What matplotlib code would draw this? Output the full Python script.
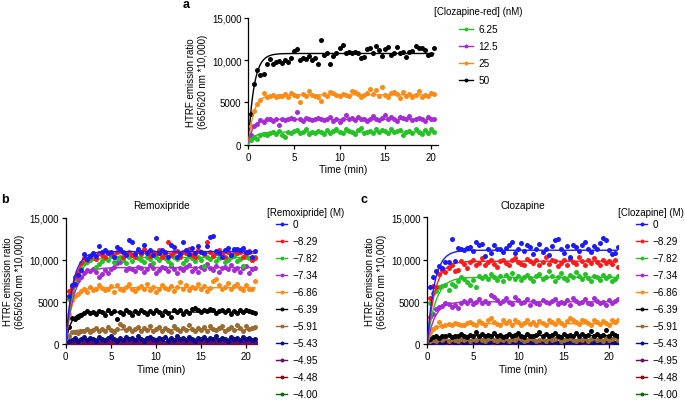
import numpy as np
import matplotlib
matplotlib.use('Agg')
import matplotlib.pyplot as plt
from matplotlib.lines import Line2D

plt.rcParams['font.family'] = ['Liberation Sans', 'DejaVu Sans']
plt.rcParams['font.size'] = 7

# ---------------- data (values in units of 100) ----------------
# panel a : [Clozapine-red] (nM)
a_labels = ['6.25', '12.5', '25', '50']
a_colors = ['#22c322', '#a62ad8', '#ff8a14', '#000000']
a_green = [5, 9, 7, 11, 13, 12, 14, 15, 13, 16, 12, 9, 15, 14, 16, 17, 14, 15, 18, 13,
           15, 14, 16, 15, 13, 17, 14, 16, 18, 15, 14, 19, 16, 15, 13, 17, 20, 14, 15, 16,
           14, 18, 15, 17, 16, 14, 18, 15, 16, 17, 12, 15, 16, 14, 18, 15, 13, 17, 14, 19, 15]
a_purple = [12, 22, 25, 29, 27, 30, 31, 28, 30, 23, 31, 29, 30, 32, 31, 39, 30, 28, 32, 31,
            29, 30, 32, 30, 29, 31, 33, 28, 30, 27, 31, 35, 30, 32, 29, 33, 31, 30, 28, 31,
            34, 30, 29, 32, 35, 31, 33, 30, 28, 33, 32, 30, 34, 29, 31, 32, 30, 28, 33, 31, 30]
a_orange = [22, 40, 48, 53, 61, 57, 58, 59, 56, 58, 58, 60, 57, 61, 59, 58, 51, 60, 58, 63,
            59, 58, 57, 52, 60, 58, 62, 61, 59, 58, 60, 59, 58, 64, 62, 60, 56, 59, 61, 66,
            60, 65, 58, 68, 59, 57, 61, 62, 60, 55, 62, 58, 60, 56, 59, 63, 57, 59, 58, 61, 60]
a_black = [36, 72, 88, 83, 84, 95, 101, 96, 98, 99, 97, 100, 98, 103, 111, 113, 100, 103, 102, 105,
           100, 103, 96, 124, 106, 109, 96, 105, 109, 115, 118, 108, 110, 108, 110, 109, 103, 104, 113, 115,
           108, 117, 112, 105, 113, 116, 106, 109, 116, 108, 110, 104, 110, 111, 117, 114, 115, 112, 106, 107, 115]
a_data = [a_green, a_purple, a_orange, a_black]
a_plateau = [15, 30, 59, 108]
a_rate = [1.5, 2.0, 1.7, 1.6]

# panels b and c : log concentration (M)
bc_labels = ['0', '\u22128.29', '\u22127.82', '\u22127.34', '\u22126.86', '\u22126.39',
             '\u22125.91', '\u22125.43', '\u22124.95', '\u22124.48', '\u22124.00']
bc_colors = ['#1a1aff', '#ff1a1a', '#22c322', '#a62ad8', '#ff8a14', '#000000',
             '#9a6a30', '#0a0a8a', '#6a0a6a', '#8a0a0a', '#0a6a0a']

b_data = [
    [57, 70, 72, 82, 88, 107, 101, 105, 108, 105, 117, 110, 112, 108, 110, 104, 115, 113, 110, 106,
     124, 122, 107, 113, 110, 118, 108, 112, 106, 126, 108, 112, 109, 104, 118, 115, 103, 107, 122, 112,
     107, 114, 108, 117, 110, 108, 117, 127, 129, 111, 108, 104, 112, 114, 106, 113, 113, 112, 114, 110,
     109, 104, 111],
    [63, 68, 80, 84, 97, 102, 100, 104, 107, 101, 108, 106, 104, 110, 107, 105, 109, 112, 103, 108,
     110, 106, 103, 111, 107, 113, 109, 105, 110, 108, 112, 104, 107, 121, 106, 109, 111, 104, 110, 108,
     113, 106, 103, 112, 109, 107, 121, 110, 105, 108, 112, 107, 104, 110, 106, 112, 108, 110, 104, 107,
     111, 100, 102],
    [53, 66, 78, 82, 90, 96, 98, 100, 103, 92, 95, 99, 102, 100, 105, 98, 102, 104, 100, 96,
     103, 99, 105, 102, 100, 98, 104, 101, 97, 103, 100, 106, 102, 99, 95, 104, 101, 103, 97, 100,
     105, 102, 99, 104, 100, 93, 103, 101, 106, 99, 102, 104, 98, 100, 103, 105, 99, 101, 93, 104,
     102, 100, 103],
    [55, 62, 70, 76, 80, 85, 88, 87, 89, 86, 80, 83, 88, 84, 89, 92, 96, 98, 100, 88,
     90, 89, 87, 92, 90, 86, 89, 94, 91, 85, 88, 92, 90, 87, 93, 89, 84, 91, 88, 92,
     94, 87, 90, 86, 92, 89, 95, 91, 88, 93, 86, 90, 92, 89, 94, 88, 91, 86, 90, 93,
     84, 89, 90],
    [36, 52, 57, 60, 63, 65, 62, 68, 64, 66, 70, 67, 64, 66, 69, 62, 70, 66, 64, 68,
     71, 65, 63, 67, 69, 66, 72, 64, 68, 62, 66, 70, 67, 65, 69, 63, 68, 74, 66, 70,
     64, 68, 67, 72, 65, 69, 63, 67, 75, 77, 70, 66, 68, 73, 65, 69, 71, 67, 64, 70,
     65, 66, 75],
    [20, 31, 30, 32, 34, 37, 39, 37, 38, 36, 39, 38, 35, 40, 37, 39, 30, 38, 36, 40,
     38, 35, 39, 37, 41, 38, 36, 39, 37, 40, 38, 35, 39, 37, 32, 40, 38, 41, 36, 39,
     37, 42, 43, 40, 38, 41, 39, 42, 40, 37, 39, 41, 38, 40, 36, 39, 37, 41, 38, 40,
     39, 38, 37],
    [10, 14, 14, 13, 15, 16, 18, 14, 17, 19, 15, 18, 16, 20, 17, 14, 18, 24, 22, 17,
     19, 15, 18, 20, 16, 19, 17, 21, 15, 18, 20, 16, 19, 17, 14, 21, 18, 16, 19, 17,
     23, 18, 15, 19, 17, 20, 16, 22, 18, 17, 19, 21, 16, 18, 20, 17, 23, 19, 16, 22,
     18, 19, 20],
    [3, 5, 7, 4, 6, 8, 5, 7, 6, 4, 8, 6, 5, 7, 9, 6, 4, 7, 5, 8,
     6, 7, 5, 9, 6, 4, 7, 8, 6, 5, 7, 6, 8, 4, 7, 5, 9, 6, 7, 5,
     8, 6, 4, 7, 6, 8, 5, 7, 6, 9, 5, 7, 6, 4, 8, 6, 7, 5, 8, 6,
     7, 5, 6],
    [1, 2, 3, 1, 2, 4, 2, 3, 1, 2, 3, 2, 4, 1, 3, 2, 2, 4, 1, 3,
     2, 3, 1, 2, 4, 2, 3, 1, 2, 3, 4, 2, 1, 3, 2, 2, 4, 1, 3, 2,
     3, 2, 1, 4, 2, 3, 2, 1, 3, 4, 2, 2, 3, 1, 2, 4, 3, 2, 1, 3,
     2, 4, 2],
    [0, 1, 2, 0, 1, 1, 2, 0, 1, 3, 1, 0, 2, 1, 1, 2, 0, 1, 2, 1,
     0, 2, 1, 3, 1, 0, 1, 2, 1, 0, 2, 1, 1, 0, 2, 3, 1, 0, 1, 2,
     1, 1, 0, 2, 1, 3, 0, 1, 2, 1, 0, 1, 2, 1, 0, 2, 1, 1, 3, 0,
     1, 2, 1],
    [1, 0, 2, 1, 3, 1, 0, 2, 1, 1, 2, 0, 1, 3, 2, 1, 0, 2, 1, 1,
     3, 0, 2, 1, 1, 0, 2, 2, 1, 0, 1, 3, 1, 2, 0, 1, 2, 1, 0, 3,
     1, 2, 1, 0, 2, 1, 1, 3, 0, 2, 1, 0, 1, 2, 3, 1, 0, 2, 1, 1,
     0, 2, 1],
]
b_plateau = [110, 108, 103, 91, 67, 38, 17, 6, 2, 1, 1]
b_rate = [1.3, 1.2, 1.1, 1.1, 1.6, 1.8, 2.5, 2.0, 2.0, 2.0, 2.0]

c_data = [
    [68, 79, 86, 92, 90, 97, 97, 124, 98, 114, 113, 111, 114, 115, 110, 121, 117, 118, 104, 113,
     108, 117, 112, 113, 109, 114, 117, 121, 108, 113, 119, 110, 117, 115, 106, 112, 118, 109, 113, 105,
     116, 123, 124, 112, 108, 116, 103, 117, 115, 110, 117, 121, 113, 109, 116, 112, 119, 125, 123, 111,
     106, 108, 115],
    [55, 69, 68, 83, 88, 85, 90, 93, 86, 88, 98, 95, 90, 97, 99, 94, 96, 102, 93, 97,
     99, 95, 91, 98, 100, 96, 94, 99, 102, 97, 95, 93, 101, 98, 96, 99, 94, 97, 103, 95,
     100, 98, 92, 96, 99, 94, 101, 97, 95, 103, 98, 93, 99, 96, 102, 97, 94, 100, 96, 98,
     95, 99, 91],
    [48, 60, 63, 68, 69, 70, 64, 71, 69, 75, 79, 77, 73, 70, 76, 68, 80, 78, 81, 77,
     83, 79, 76, 80, 75, 82, 78, 84, 77, 81, 76, 79, 82, 78, 74, 80, 83, 77, 79, 86,
     81, 75, 79, 84, 78, 76, 82, 79, 85, 80, 77, 83, 78, 74, 80, 79, 76, 82, 78, 81,
     75, 77, 81],
    [32, 36, 42, 44, 45, 48, 47, 44, 46, 43, 48, 51, 49, 52, 47, 50, 53, 49, 51, 48,
     58, 56, 52, 49, 51, 54, 50, 47, 56, 52, 48, 50, 53, 46, 51, 49, 47, 52, 50, 48,
     51, 53, 47, 50, 49, 52, 46, 55, 51, 48, 50, 53, 49, 47, 55, 51, 48, 50, 46, 52,
     49, 51, 53],
    [14, 18, 20, 26, 21, 23, 24, 22, 25, 24, 23, 22, 25, 26, 24, 22, 27, 25, 23, 29,
     31, 26, 24, 22, 28, 25, 27, 23, 29, 26, 22, 25, 28, 24, 26, 23, 27, 25, 22, 28,
     26, 24, 29, 25, 23, 27, 31, 28, 26, 24, 29, 27, 25, 23, 28, 26, 24, 27, 25, 23,
     28, 26, 29],
    [6, 8, 9, 7, 10, 9, 11, 8, 10, 9, 12, 10, 8, 11, 9, 14, 10, 12, 9, 11,
     10, 13, 9, 11, 8, 10, 12, 9, 11, 13, 10, 8, 12, 10, 9, 11, 14, 10, 12, 9,
     11, 13, 10, 8, 12, 10, 11, 9, 13, 10, 12, 9, 11, 15, 10, 12, 9, 11, 16, 10,
     13, 11, 10],
    [3, 5, 4, 6, 5, 7, 4, 6, 5, 3, 6, 5, 7, 4, 6, 5, 8, 5, 4, 6,
     7, 5, 3, 6, 5, 7, 4, 6, 5, 8, 6, 4, 5, 7, 6, 3, 5, 6, 4, 7,
     5, 6, 8, 4, 5, 6, 7, 5, 3, 6, 5, 7, 4, 6, 9, 5, 6, 4, 7, 5,
     6, 8, 5],
    [1, 2, 3, 2, 1, 3, 2, 4, 1, 2, 3, 1, 2, 2, 4, 1, 3, 2, 1, 2,
     3, 4, 1, 2, 3, 2, 1, 3, 2, 4, 2, 1, 3, 2, 1, 2, 4, 3, 1, 2,
     2, 3, 1, 4, 2, 1, 3, 2, 2, 1, 3, 4, 2, 1, 2, 3, 1, 2, 4, 2,
     3, 1, 2],
    [1, 0, 1, 2, 1, 0, 2, 1, 1, 3, 0, 1, 2, 1, 0, 1, 2, 2, 0, 1,
     1, 3, 1, 0, 2, 1, 1, 0, 2, 1, 3, 1, 0, 1, 2, 1, 0, 2, 1, 1,
     2, 0, 1, 3, 1, 0, 2, 1, 1, 2, 0, 1, 1, 2, 0, 3, 1, 1, 0, 2,
     1, 1, 2],
    [0, 1, 1, 2, 0, 1, 3, 1, 0, 2, 1, 1, 0, 2, 1, 3, 0, 1, 2, 1,
     1, 0, 2, 1, 0, 1, 3, 1, 2, 0, 1, 1, 2, 0, 1, 2, 1, 3, 0, 1,
     1, 2, 0, 1, 2, 1, 0, 3, 1, 1, 2, 0, 1, 1, 2, 1, 0, 2, 1, 3,
     0, 1, 1],
    [1, 2, 0, 1, 1, 2, 0, 3, 1, 1, 2, 0, 1, 2, 1, 0, 2, 1, 3, 1,
     0, 1, 2, 1, 1, 0, 2, 3, 1, 0, 1, 2, 1, 1, 0, 2, 1, 3, 1, 0,
     2, 1, 1, 2, 0, 1, 3, 1, 0, 2, 1, 1, 2, 0, 1, 1, 3, 0, 2, 1,
     1, 0, 2],
]
c_plateau = [111, 98, 79, 50, 24, 10, 5, 2, 1, 1, 1]
c_rate = [1.3, 1.2, 1.1, 1.2, 1.5, 1.5, 2.0, 2.0, 2.0, 2.0, 2.0]

dt = 1 / 3  # sampling interval (min)
W, H = 685, 402


def panel(ax, data, plateau, rate, colors, xmax):
    n = len(data)
    for i, (vals, c) in enumerate(zip(data, colors)):
        z = 3 + (n - i)
        y = np.array(vals) * 100
        t = np.arange(1, len(y) + 1) * dt
        ax.plot(t, y, 'o', ms=3.6, mew=0, color=c, zorder=z)
        tf = np.linspace(0, t[-1], 200)
        ax.plot(tf, plateau[i] * 100 * (1 - np.exp(-rate[i] * tf)), '-', lw=1.0, color=c, zorder=z)
    ax.set_xlim(0, xmax)
    ax.set_ylim(0, 15000)
    ax.set_xticks([0, 5, 10, 15, 20])
    ax.set_yticks([0, 5000, 10000, 15000])
    ax.set_yticklabels(['0', '5000', '10,000', '15,000'])
    for s in ['top', 'right']:
        ax.spines[s].set_visible(False)
    for s in ['left', 'bottom']:
        ax.spines[s].set_linewidth(0.9)
    ax.tick_params(direction='out', length=3, width=0.9, labelsize=7, pad=2)
    ax.set_xlabel('Time (min)', fontsize=7.3, labelpad=2)
    ax.set_ylabel('HTRF emission ratio\n(665/620 nm *10,000)', fontsize=7, labelpad=3, linespacing=1.25)


def leg(fig, ax, labels, colors, x, ytop, hl):
    handles = [Line2D([], [], color=c, lw=1.0, marker='o', ms=2.8, mew=0) for c in colors]
    ax.legend(handles, labels, loc='upper left', bbox_to_anchor=(x / W, 1 - ytop / H),
              bbox_transform=fig.transFigure, frameon=False, fontsize=7.2,
              handlelength=hl, handletextpad=0.55, labelspacing=0.7,
              borderpad=0, borderaxespad=0)


fig = plt.figure(figsize=(W / 100, H / 100), dpi=100)

ax_a = fig.add_axes([248.3 / W, 1 - 145.7 / H, 189.7 / W, 126.7 / H])
panel(ax_a, a_data, a_plateau, a_rate, a_colors, 20.8)
fig.text(434 / W, 1 - 11.7 / H, '[Clozapine-red] (nM)', fontsize=7, va='center', ha='left')
leg(fig, ax_a, a_labels, a_colors, 459, 25, 1.4)

ax_b = fig.add_axes([65.7 / W, 1 - 345 / H, 191 / W, 126 / H])
panel(ax_b, b_data, b_plateau, b_rate, bc_colors, 21.2)
ax_b.set_title('Remoxipride', fontsize=7.3, pad=7)
fig.text(267 / W, 1 - 213 / H, '[Remoxipride] (M)', fontsize=7, va='center', ha='left')
leg(fig, ax_b, bc_labels, bc_colors, 276, 220, 1.1)

ax_c = fig.add_axes([427.3 / W, 1 - 345 / H, 191 / W, 126.7 / H])
panel(ax_c, c_data, c_plateau, c_rate, bc_colors, 21.0)
ax_c.set_title('Clozapine', fontsize=7.3, pad=7)
fig.text(618 / W, 1 - 213 / H, '[Clozapine] (M)', fontsize=7, va='center', ha='left')
leg(fig, ax_c, bc_labels, bc_colors, 636, 220, 1.1)

fig.text(183 / W, 1 - 5 / H, 'a', fontsize=9, fontweight='bold', va='center', ha='left')
fig.text(1 / W, 1 - 200 / H, 'b', fontsize=9, fontweight='bold', va='center', ha='left')
fig.text(361 / W, 1 - 200 / H, 'c', fontsize=9, fontweight='bold', va='center', ha='left')

fig.savefig('out.png', dpi=100)
